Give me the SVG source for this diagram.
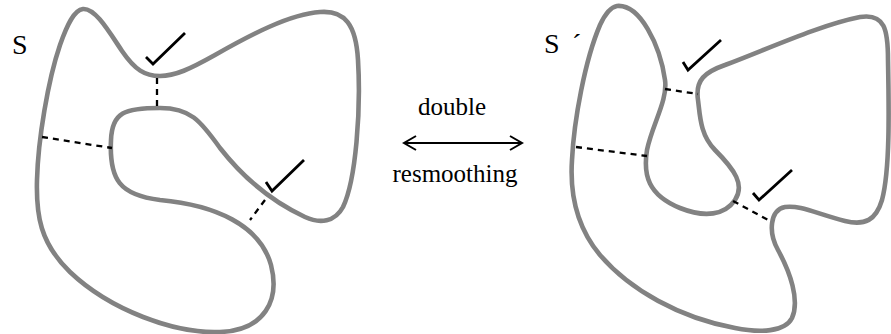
<svg xmlns="http://www.w3.org/2000/svg" width="891" height="334" viewBox="0 0 891 334">
<style>
.curve{fill:none;stroke:#828282;stroke-width:4.6;stroke-linejoin:round}
.dash{fill:none;stroke:#000;stroke-width:2.3;stroke-dasharray:6,5}
.check{fill:none;stroke:#000;stroke-width:2.8}
.lbl{font-family:"Liberation Serif","Times New Roman",serif;fill:#000}
.arr{fill:none;stroke:#000;stroke-width:2}
</style>
<rect width="891" height="334" fill="#fff"/>
<g id="surface-S">
<path class="curve" d="M 83,9 C 95,8 108,30 122,51 C 135,70 145,76 160,76 C 175,76 190,69 215,55 C 250,35 290,14 320,12 C 345,10 356,25 358,60 C 361,110 356,180 343,207 C 335,222 320,224 305,217 C 275,203 245,180 220,148 C 200,120 190,108 160,108 C 125,108 112,112 111,140 C 109,180 120,195 160,200 C 215,205 260,225 271,265 C 280,300 265,330 220,332 C 175,334 110,310 70,272 C 40,243 36,215 37,180 C 38,140 48,80 60,45 C 67,25 74,10 83,9 Z"/>
<text class="lbl" x="12" y="54" font-size="28">S</text>
<line class="dash" x1="157" y1="78" x2="157" y2="106"/>
<line class="dash" x1="42" y1="137" x2="112" y2="148"/>
<line class="dash" x1="265" y1="200" x2="250" y2="220"/>
<polyline class="check" points="146,57 153,64 185,33"/>
<polyline class="check" points="266,182 272,191 304,160"/>
</g>
<g id="surface-S-prime">
<path class="curve" d="M 617,6 C 640,4 660,45 665,80 C 668,100 652,125 647,150 C 643,175 648,195 680,208 C 705,218 725,215 735,200 C 745,185 735,170 715,150 C 700,135 700,115 698,100 C 695,80 705,72 725,65 C 770,48 820,25 860,17 C 885,13 888,30 888,60 C 889,110 890,170 882,200 C 876,220 865,226 845,221 C 815,213 800,205 785,207 C 770,210 768,232 778,250 C 790,272 800,300 792,318 C 785,332 760,333 735,328 C 680,318 630,290 600,255 C 575,225 570,190 572,160 C 574,120 585,60 600,25 C 606,12 611,7 617,6 Z"/>
<text class="lbl" x="544" y="53" font-size="28">S <tspan x="572">´</tspan></text>
<line class="dash" x1="665" y1="89" x2="698" y2="94"/>
<line class="dash" x1="576" y1="147" x2="647" y2="156"/>
<line class="dash" x1="733" y1="201" x2="770" y2="221"/>
<polyline class="check" points="683,62 688,70 721,40"/>
<polyline class="check" points="753,193 759,200 792,170"/>
</g>
<g id="connectors">
<line class="arr" x1="404" y1="143" x2="522" y2="143"/>
<polyline class="arr" points="416,136 404,143 416,150"/>
<polyline class="arr" points="510,136 522,143 510,150"/>
<text class="lbl" x="452" y="115" font-size="25" text-anchor="middle">double</text>
<text class="lbl" x="455" y="182" font-size="25" text-anchor="middle">resmoothing</text>
</g>
</svg>
